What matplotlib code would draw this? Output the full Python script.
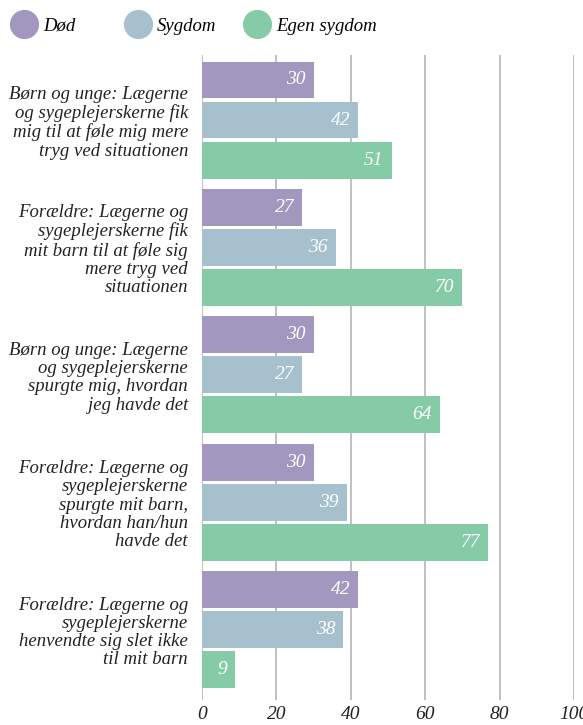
import matplotlib.pyplot as plt
import numpy as np
from matplotlib.lines import Line2D
from matplotlib import font_manager as fm

categories = [
    "Børn og unge: Lægerne\nog sygeplejerskerne fik\nmig til at føle mig mere\ntryg ved situationen",
    "Forældre: Lægerne og\nsygeplejerskerne fik\nmit barn til at føle sig\nmere tryg ved\nsituationen",
    "Børn og unge: Lægerne\nog sygeplejerskerne\nspurgte mig, hvordan\njeg havde det",
    "Forældre: Lægerne og\nsygeplejerskerne\nspurgte mit barn,\nhvordan han/hun\nhavde det",
    "Forældre: Lægerne og\nsygeplejerskerne\nhenvendte sig slet ikke\ntil mit barn",
]
series = ["Død", "Sygdom", "Egen sygdom"]
dod = [30, 27, 30, 30, 42]
sygdom = [42, 36, 27, 39, 38]
egen = [51, 70, 64, 77, 9]
colors = ["#a297be", "#a6c1cd", "#86cba7"]

# pick a serif family that really has an italic face
fam = 'Liberation Serif'
path = fm.findfont(fm.FontProperties(family=fam, style='italic'), fallback_to_default=False)
if 'italic' not in path.lower():
    fam = 'DejaVu Serif'
plt.rcParams['font.family'] = [fam, 'DejaVu Serif']
plt.rcParams['font.style'] = 'italic'

fig = plt.figure(figsize=(5.83, 7.25), dpi=100)
ax = fig.add_axes([202 / 583, 1 - 700 / 725, 372 / 583, 645 / 725])

y = np.arange(len(categories))
pitch = 0.314
height = 0.29
for i, (vals, col) in enumerate(zip([dod, sygdom, egen], colors)):
    pos = y + (i - 1) * pitch
    bars = ax.barh(pos, vals, height=height, color=col, zorder=2)
    for b, v in zip(bars, vals):
        ax.text(v - 2.2, b.get_y() + b.get_height() / 2, str(v), ha='right', va='center',
                color='white', fontsize=14, style='italic', zorder=3)

ax.set_xlim(0, 100)
ax.set_ylim(4.55, -0.51)
ax.set_xticks(range(0, 101, 20))
ax.set_yticks(y)
ax.set_yticklabels(categories, fontsize=13.5, style='italic', color='#222222', linespacing=1.1)
ax.tick_params(axis='both', length=0)
ax.tick_params(axis='y', pad=10)
ax.tick_params(axis='x', pad=4, labelsize=14, labelcolor='#222222')
ax.grid(axis='x', color='#b5b5b5', linewidth=1.2, zorder=0)
for s in ax.spines.values():
    s.set_visible(False)

# one small legend per series, spaced like the original header
legend_x = [9.5, 123.5, 242.5]
for name, col, lx in zip(series, colors, legend_x):
    h = Line2D([], [], marker='o', linestyle='', markersize=20, color=col)
    fig.legend([h], [name], loc='center left', bbox_to_anchor=(lx / 583, 1 - 26 / 725),
               frameon=False, fontsize=13.5, handlelength=1.5, handletextpad=0.3,
               borderaxespad=0, borderpad=0)

fig.savefig("out.png", dpi=100)
